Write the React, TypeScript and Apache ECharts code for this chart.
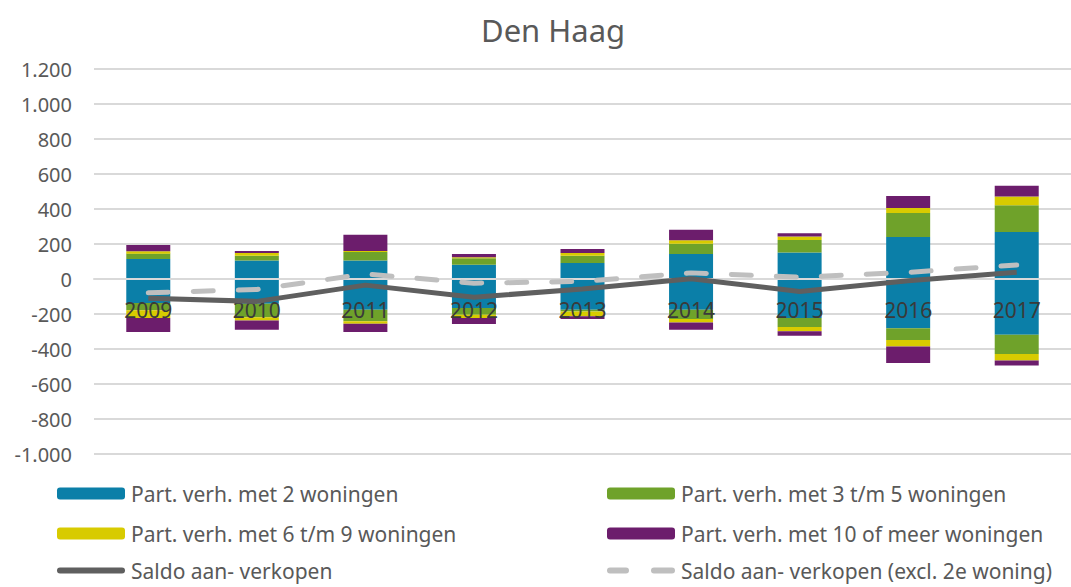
import React, { useEffect, useRef } from "react";
import * as echarts from "echarts";

const years = ["2009", "2010", "2011", "2012", "2013", "2014", "2015", "2016", "2017"];
const yTicks = { min: -1000, max: 1200, interval: 200 };

const twoPos = [114, 106, 106, 82, 91, 143, 152, 240, 269];
const threeFivePos = [31, 27, 48, 36, 42, 59, 71, 137, 152];
const sixNinePos = [13, 15, 6, 6, 15, 19, 20, 29, 51];
const tenPlusPos = [36, 12, 93, 19, 23, 61, 18, 68, 61];

const twoNeg = [-137, -142, -175, -166, -175, -175, -223, -282, -318];
const threeFiveNeg = [-42, -77, -67, -38, -10, -54, -51, -67, -111];
const sixNineNeg = [-44, -18, -13, -19, -28, -19, -25, -36, -36];
const tenPlusNeg = [-80, -53, -48, -34, -16, -42, -25, -95, -29];

const saldo = [-110, -128, -35, -104, -57, 2, -71, -10, 38];
const saldoExcl = [-79, -60, 29, -24, -14, 35, 10, 38, 80];

const N2 = "Part. verh. met 2 woningen";
const N35 = "Part. verh. met 3 t/m 5 woningen";
const N69 = "Part. verh. met 6 t/m 9 woningen";
const N10 = "Part. verh. met 10 of meer woningen";
const NS = "Saldo aan- verkopen";
const NSE = "Saldo aan- verkopen (excl. 2e woning)";

const C2 = "#0B7FA8";
const C35 = "#6FA22A";
const C69 = "#D8CB00";
const C10 = "#6C1D6C";
const CS = "#5F5F5F";
const CSE = "#BFBFBF";

const FONT = "Noto Sans";

const SOLID_ICON = "path://M3,0 L65,0 A3,3 0 0 1 65,6 L3,6 A3,3 0 0 1 3,0 Z";
const DASH_ICON =
  "path://M3,0 L19,0 A3,3 0 0 1 19,6 L3,6 A3,3 0 0 1 3,0 Z M47,0 L65,0 A3,3 0 0 1 65,6 L47,6 A3,3 0 0 1 47,0 Z";

function fmt(v: number): string {
  const a = Math.abs(v);
  const s = a >= 1000 ? Math.floor(a / 1000) + "." + String(a % 1000).padStart(3, "0") : String(a);
  return (v < 0 ? "-" : "") + s;
}

export default function App() {
  const ref = useRef<HTMLDivElement>(null);
  useEffect(() => {
    if (!ref.current) return;
    const chart = echarts.init(ref.current, null, { renderer: "svg" });
    const bar = (name: string, data: number[], color: string) => ({
      name,
      type: "bar",
      stack: "s",
      data,
      barWidth: 44,
      itemStyle: { color },
      z: 2,
    });
    const leg = (name: string, left: number, centerY: number, icon?: string, h = 12) => ({
      left,
      top: centerY - 12,
      orient: "horizontal",
      itemWidth: 68,
      itemHeight: h,
      padding: 0,
      textStyle: { fontFamily: FONT, fontSize: 21, color: "#595959", padding: [0, 0, 0, 1] },
      data: [icon ? { name, icon } : { name }],
    });
    chart.setOption({
      animation: false,
      backgroundColor: "#ffffff",
      textStyle: { fontFamily: FONT },
      title: {
        text: "Den Haag",
        left: 476,
        top: 9,
        textStyle: { fontFamily: FONT, fontSize: 31, fontWeight: "normal", color: "#595959" },
      },
      grid: { left: 94, right: -12, top: 69, bottom: 133, containLabel: false },
      legend: [
        leg(N2, 57, 495),
        leg(N35, 607, 495),
        leg(N69, 57, 535),
        leg(N10, 607, 535),
        leg(NS, 57, 572, SOLID_ICON, 6),
        leg(NSE, 607, 572, DASH_ICON, 6),
      ],
      xAxis: {
        type: "category",
        data: years,
        z: 10,
        offset: -175,
        axisLine: { onZero: false, lineStyle: { color: "#D9D9D9", width: 2 } },
        axisTick: { show: false },
        axisLabel: { fontFamily: FONT, fontSize: 21, color: "#3A3A3A", margin: 20 },
      },
      yAxis: {
        type: "value",
        min: yTicks.min,
        max: yTicks.max,
        interval: yTicks.interval,
        axisLine: { show: false },
        axisTick: { show: false },
        splitLine: { lineStyle: { color: "#D9D9D9", width: 2 } },
        axisLabel: { fontFamily: FONT, fontSize: 20, color: "#595959", margin: 22, formatter: (v: number) => fmt(v) },
      },
      series: [
        bar(N2, twoPos, C2),
        bar(N2, twoNeg, C2),
        bar(N35, threeFivePos, C35),
        bar(N35, threeFiveNeg, C35),
        bar(N69, sixNinePos, C69),
        bar(N69, sixNineNeg, C69),
        bar(N10, tenPlusPos, C10),
        bar(N10, tenPlusNeg, C10),
        {
          name: NS,
          type: "line",
          data: saldo,
          symbol: "none",
          z: 12,
          lineStyle: { color: CS, width: 5 },
          itemStyle: { color: CS },
        },
        {
          name: NSE,
          type: "line",
          data: saldoExcl,
          symbol: "none",
          z: 11,
          lineStyle: { color: CSE, width: 5, type: [20, 25], cap: "round" },
          itemStyle: { color: CSE },
        },
      ],
    });
    return () => chart.dispose();
  }, []);
  return <div ref={ref} style={{ position: "fixed", left: 0, top: 0, width: 1071, height: 587 }} />;
}
